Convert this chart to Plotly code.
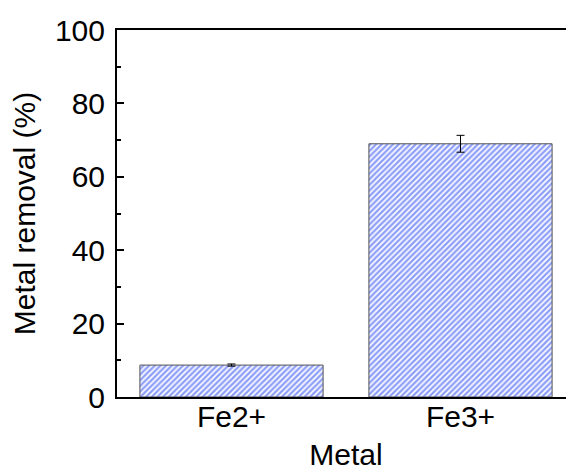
import plotly.graph_objects as go

categories = ["Fe2+", "Fe3+"]
removal = [8.7, 69.0]
removal_err = [0.3, 2.3]
y_ticks = [0, 20, 40, 60, 80, 100]

FONT = "Liberation Sans, Arial, sans-serif"

fig = go.Figure()
fig.add_trace(go.Bar(
    x=categories, y=removal,
    width=0.8,
    marker=dict(
        color="white",
        line=dict(color="#555555", width=1),
        pattern=dict(shape="/", fgcolor="#2040f0", bgcolor="white", size=4, solidity=0.6),
    ),
    error_y=dict(type="data", array=removal_err, color="black", thickness=1, width=4, visible=True),
    showlegend=False,
))

# The page body adds an 8 px offset; the plot's right edge lies just beyond the window.
fig.update_layout(
    width=574, height=473,
    margin=dict(l=109, r=5, t=21, b=84),
    paper_bgcolor="white", plot_bgcolor="white",
    font=dict(family=FONT, size=30, color="black"),
    xaxis=dict(
        type="category",
        range=[-0.5, 1.5],
        showline=True, linecolor="black", linewidth=2, mirror=True,
        ticks="", showgrid=False, zeroline=False,
        tickfont=dict(size=30),
        ticklabelstandoff=-8,
        title=dict(text="Metal", font=dict(size=30), standoff=12),
    ),
    yaxis=dict(
        range=[0, 100],
        tickvals=y_ticks,
        showline=True, linecolor="black", linewidth=2, mirror="ticks",
        ticks="inside", ticklen=7, tickwidth=2, tickcolor="black",
        minor=dict(dtick=10, ticks="inside", ticklen=4, tickwidth=2, tickcolor="black", showgrid=False),
        showgrid=False, zeroline=False,
        tickfont=dict(size=30),
        ticklabelstandoff=4,
        title=dict(text="Metal removal (%)", font=dict(size=30), standoff=10),
    ),
)

fig.write_html("out.html")
